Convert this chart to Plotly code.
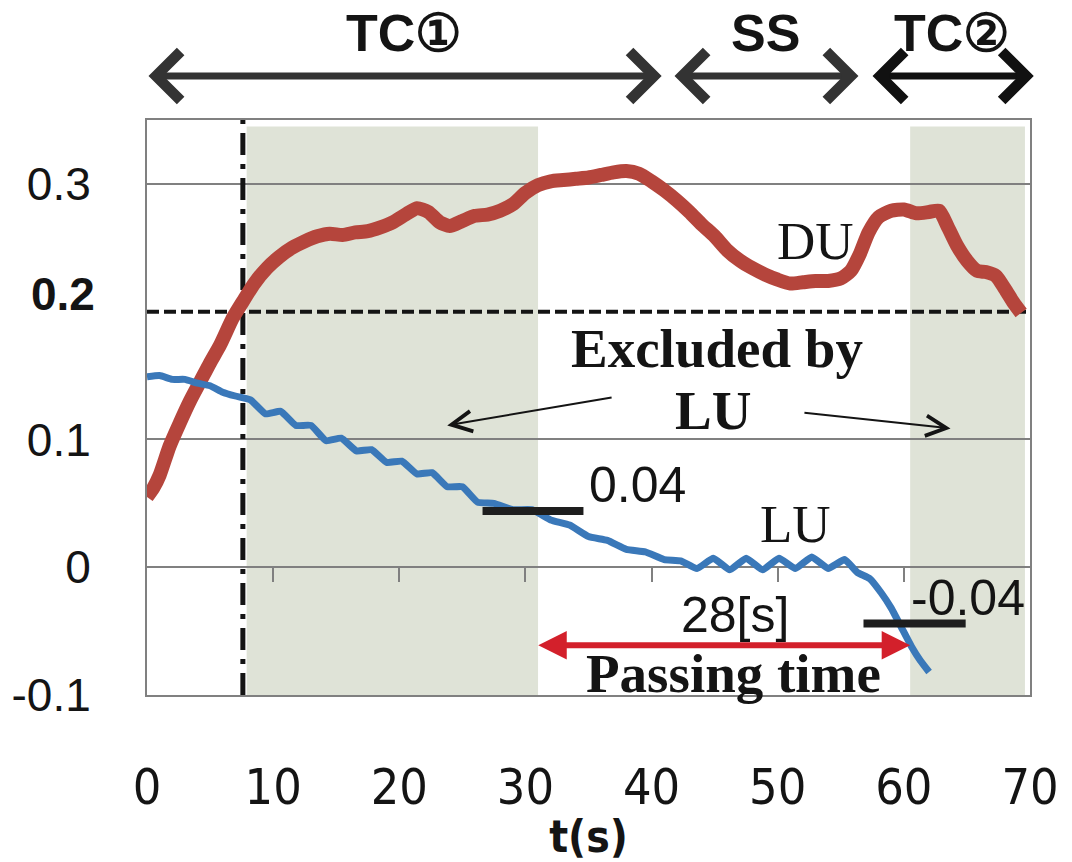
import plotly.graph_objects as go

# ---------------- data ----------------
du_t = [0, 0.5, 1, 1.8, 2.6, 3.4, 4.2, 5, 5.8, 6.8, 7.6, 8.5, 9.5, 10.5, 11.5, 12.5,
        13.5, 14.5, 15.5, 16.5, 17.5, 18.5, 19.5, 20.5, 21.4, 22.3, 23.2, 24.0, 25.0,
        26.0, 27.0, 28.0, 29.0, 30.0, 31.0, 32.0, 33.0, 34.0, 35.0, 36.0, 37.0, 38.0,
        39.0, 40.0, 41.0, 42.0, 43.0, 44.0, 45.0, 46.0, 47.0, 48.0, 49.0, 50.0, 51.0,
        52.0, 53.0, 54.0, 55.0, 55.8, 56.5, 57.2, 58.0, 59.0, 60.0, 61.0, 62.0, 62.8,
        63.5, 64.2, 65.0, 65.8, 66.5, 67.3, 68.0, 68.7, 69.3]
du_v = [0.055, 0.062, 0.072, 0.095, 0.113, 0.130, 0.145, 0.160, 0.174, 0.195, 0.208,
        0.222, 0.234, 0.243, 0.250, 0.255, 0.259, 0.261, 0.260, 0.262, 0.263, 0.266,
        0.270, 0.276, 0.281, 0.278, 0.270, 0.267, 0.271, 0.275, 0.276, 0.279, 0.284,
        0.293, 0.299, 0.302, 0.303, 0.304, 0.305, 0.307, 0.309, 0.310, 0.308, 0.302,
        0.295, 0.287, 0.278, 0.268, 0.259, 0.248, 0.240, 0.234, 0.229, 0.225, 0.222,
        0.223, 0.224, 0.224, 0.226, 0.232, 0.245, 0.262, 0.274, 0.279, 0.280, 0.277,
        0.278, 0.279, 0.266, 0.252, 0.240, 0.232, 0.231, 0.228, 0.218, 0.207, 0.199]

lu_t = [0, 1, 2, 3, 4, 5, 6, 7, 8.2, 9.4, 10.6, 11.8, 13.0, 14.2, 15.4, 16.6, 17.8,
        19.0, 20.2, 21.4, 22.6, 23.8, 25.0, 26.2, 27.5, 29, 30.5, 32, 33.5, 35, 36.5,
        38, 39.5, 41, 42.3, 43.6, 44.9, 46.2, 47.5, 48.8, 50.1, 51.4, 52.7, 54.0, 55.3,
        56.3, 57.3, 58.2, 59.0, 59.8, 60.6, 61.3, 62.0]
lu_v = [0.149, 0.150, 0.147, 0.147, 0.144, 0.142, 0.137, 0.134, 0.131, 0.120, 0.122,
        0.111, 0.111, 0.099, 0.101, 0.091, 0.092, 0.082, 0.083, 0.073, 0.074,
        0.063, 0.063, 0.051, 0.050, 0.045, 0.045, 0.037, 0.033, 0.024, 0.021,
        0.014, 0.012, 0.006, 0.005, -0.001, 0.007, -0.002, 0.007, -0.002, 0.007,
        -0.001, 0.008, -0.001, 0.006, -0.004, -0.009, -0.020, -0.032, -0.047, -0.062,
        -0.073, -0.082]

x_ticks = [0, 10, 20, 30, 40, 50, 60, 70]
x_minor_ticks = [10, 20, 30, 40, 50, 60]
y_ticks = [-0.1, 0, 0.1, 0.3]
y_ticktext = ["-0.1", "0", "0.1", "0.3"]
du_threshold = 0.2
start_t = 7.6
excluded_spans = [(7.9, 31.0), (60.5, 69.6)]
lu_thresholds = [0.044, -0.044]
lu_threshold_spans = [(26.6, 34.6), (56.8, 64.9)]
lu_threshold_labels = ["0.04", "-0.04"]
passing_span = (30.9, 60.5)
passing_level = -0.061
passing_label = "28[s]"
phase_names = ["TC①", "SS", "TC②"]
phase_spans = [(0, 40.8), (41.7, 56.4), (57.4, 70.3)]

X_RANGE = [0, 70]
Y_RANGE = [-0.1, 0.35]

SERIF = "Liberation Serif, Times New Roman, serif"
SANS = "Liberation Sans, Arial, sans-serif"
NARROW = "Liberation Sans Narrow, DejaVu Sans Condensed, Lato, sans-serif"
INK = "#141414"

fig = go.Figure()

# curves
fig.add_trace(go.Scatter(x=du_t, y=du_v, mode="lines",
                         line=dict(color="#b5453c", width=14, shape="spline", smoothing=0.6),
                         hoverinfo="skip"))
fig.add_trace(go.Scatter(x=lu_t, y=lu_v, mode="lines",
                         line=dict(color="#3a78b9", width=7, shape="spline", smoothing=0.4),
                         hoverinfo="skip"))
# carrier for the tick axis on the zero line
fig.add_trace(go.Scatter(x=X_RANGE, y=[None, None], xaxis="x2", yaxis="y",
                         mode="lines", hoverinfo="skip", showlegend=False))

shapes = []
for a, b in excluded_spans:
    shapes.append(dict(type="rect", xref="x", yref="y", x0=a, x1=b,
                       y0=Y_RANGE[0], y1=0.345, fillcolor="#dfe3d7",
                       line=dict(width=0), layer="below"))
shapes.append(dict(type="line", xref="x", yref="y", x0=X_RANGE[0], x1=X_RANGE[1],
                   y0=du_threshold, y1=du_threshold,
                   line=dict(color=INK, width=4, dash="12px,5px"), layer="between"))
shapes.append(dict(type="line", xref="x", yref="y", x0=start_t, x1=start_t,
                   y0=Y_RANGE[0], y1=Y_RANGE[1],
                   line=dict(color=INK, width=5, dash="22px,9px,5px,9px"), layer="between"))
for lvl, (a, b) in zip(lu_thresholds, lu_threshold_spans):
    shapes.append(dict(type="line", xref="x", yref="y", x0=a, x1=b, y0=lvl, y1=lvl,
                       line=dict(color="#1e1e1e", width=8), layer="above"))

ann = []
# phase arrows on top
phase_colors = ["#333333", "#333333", "#111111"]
for name, (a, b), col in zip(phase_names, phase_spans, phase_colors):
    ann.append(dict(x=b, y=1.0765, xref="x", yref="paper", ax=a, ay=0,
                    axref="x", ayref="pixel", text="", showarrow=True,
                    arrowhead=4, startarrowhead=4, arrowside="end+start",
                    arrowwidth=7, arrowsize=1.35, startarrowsize=1.35, arrowcolor=col))
    ann.append(dict(x=(a + b) / 2, y=1.151, xref="x", yref="paper", text=name,
                    xanchor="center", yanchor="middle", showarrow=False,
                    font=dict(family=SANS, size=52, color=INK, weight="bold")))

# passing time arrow
ann.append(dict(x=passing_span[1], y=passing_level, xref="x", yref="y",
                ax=passing_span[0], ay=passing_level, axref="x", ayref="y",
                text="", showarrow=True, arrowhead=2, startarrowhead=2,
                arrowside="end+start", arrowwidth=6, arrowsize=0.95, startarrowsize=0.95,
                arrowcolor="#d3202b"))

# excluded arrows
ann.append(dict(x=23.8, y=0.111, ax=36.95, ay=0.133, xref="x", yref="y", axref="x",
                ayref="y", text="", showarrow=True, arrowhead=5, arrowwidth=2,
                arrowsize=2, arrowcolor=INK))
ann.append(dict(x=63.7, y=0.1086, ax=52.0, ay=0.121, xref="x", yref="y", axref="x",
                ayref="y", text="", showarrow=True, arrowhead=5, arrowwidth=2,
                arrowsize=2, arrowcolor=INK))

def label(x, y, text, family, size, bold=False):
    ann.append(dict(x=x, y=y, xref="x", yref="y", text=text, showarrow=False,
                    xanchor="center", yanchor="middle",
                    font=dict(family=family, size=size, color=INK,
                              weight="bold" if bold else "normal")))

label(53.0, 0.2555, "DU", SERIF, 53)
label(45.2, 0.171, "Excluded by", SERIF, 55, True)
label(44.9, 0.1227, "LU", SERIF, 55, True)
label(51.4, 0.034, "LU", SERIF, 53)
label(38.9, 0.064, lu_threshold_labels[0], SANS, 50)
label(65.1, -0.024, lu_threshold_labels[1], SANS, 50)
label(46.6, -0.0375, passing_label, SANS, 50)
label(46.5, -0.083, "Passing time", SERIF, 55, True)

# bold 0.2 tick label
ann.append(dict(x=0, y=du_threshold, xref="paper", yref="y", xanchor="right",
                yanchor="middle", xshift=-50, yshift=18, text="0.2", showarrow=False,
                font=dict(family=SANS, size=46, color=INK, weight="bold")))

fig.update_layout(
    width=1072, height=862,
    margin=dict(l=147, r=42, t=120, b=167, autoexpand=False),
    paper_bgcolor="white", plot_bgcolor="white",
    showlegend=False,
    shapes=shapes, annotations=ann,
    xaxis=dict(range=X_RANGE, tickvals=x_ticks, ticks="", showgrid=False,
               zeroline=False, showline=True, mirror=True, linecolor="#808080",
               linewidth=2, tickfont=dict(family=NARROW, size=50, color=INK),
               ticklabelstandoff=47, automargin=False,
               title=dict(text="t(s)", standoff=10,
                          font=dict(family=NARROW, size=44, color=INK, weight="bold"))),
    xaxis2=dict(range=X_RANGE, overlaying="x", anchor="free",
                position=(0 - Y_RANGE[0]) / (Y_RANGE[1] - Y_RANGE[0]),
                side="bottom", tickvals=x_minor_ticks, ticks="outside", ticklen=14,
                tickwidth=2, tickcolor="#808080", showticklabels=False,
                showgrid=False, showline=False, zeroline=False, automargin=False),
    yaxis=dict(range=Y_RANGE, tickvals=y_ticks, ticktext=y_ticktext, ticks="",
               showgrid=True, gridcolor="#808080", gridwidth=2, zeroline=False,
               showline=True, mirror=True, linecolor="#808080", linewidth=2,
               tickfont=dict(family=SANS, size=46, color=INK), ticklabelstandoff=45,
               automargin=False),
)

fig.write_html("out.html")
